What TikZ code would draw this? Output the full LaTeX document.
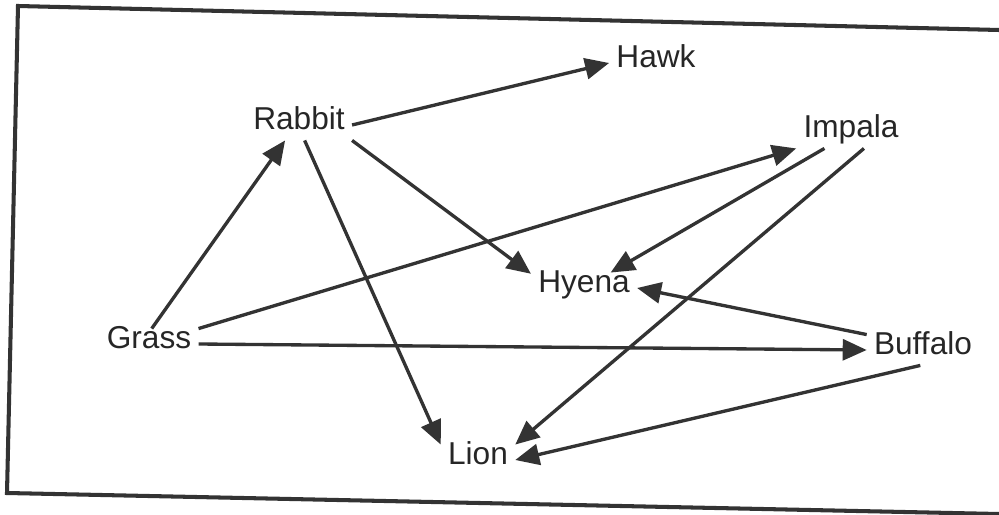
\documentclass[tikz,border=0pt]{standalone}
\usepackage{fontspec}
\setmainfont{Liberation Sans}
\usepackage{tikz}
\usetikzlibrary{arrows.meta}
\tikzstyle{animal}=[inner sep=1.4mm, text height=0.72em, text depth=0.2em, font=\fontsize{18}{21}\selectfont, text=black!85]
\tikzstyle{arrow}=[-{Triangle[length=4.8mm,width=4.2mm]}, line width=1.9pt, draw=black!80]
\tikzstyle{frame}=[line width=2.3pt, draw=black!80]
\tikzset{every picture/.style={
    x=0.2mm, y=-0.2mm
  }
}

\begin{document}
\begin{tikzpicture}
          \useasboundingbox (0,0) rectangle (999,515);
          % scanned frame, slightly tilted
          \draw[frame] (999,30) -- (18,6) -- (7,493) -- (999,514);
          \node[animal] at (656,63) (hawk) {Hawk};
          \node[animal] at (299,125) (rabbit) {Rabbit};
          \node[animal] at (851,133) (impala) {Impala};
          \node[animal] at (584,288) (hyena) {Hyena};
          \node[animal] at (149,344) (grass) {Grass};
          \node[animal] at (923,350) (buffalo) {Buffalo};
          \node[animal] at (478,460) (lion) {Lion};
          \draw [arrow] (rabbit.east) -- (hawk.west);
          \draw [arrow] (grass.80) -- (rabbit.228);
          \draw [arrow] (rabbit.south east) -- (hyena.165);
          \draw [arrow] (rabbit.-70) -- (lion.north west);
          \draw [arrow] (grass.north east) -- (impala.south west);
          \draw [arrow] (impala) -- (hyena);
          \draw [arrow] (impala.-50) -- (lion.north east);
          \draw [arrow] (buffalo.north west) -- (hyena.east);
          \draw [arrow] (grass.east) -- (buffalo.west);
          \draw [arrow] (buffalo.-100) -- (lion.east);
        \end{tikzpicture}
\end{document}
